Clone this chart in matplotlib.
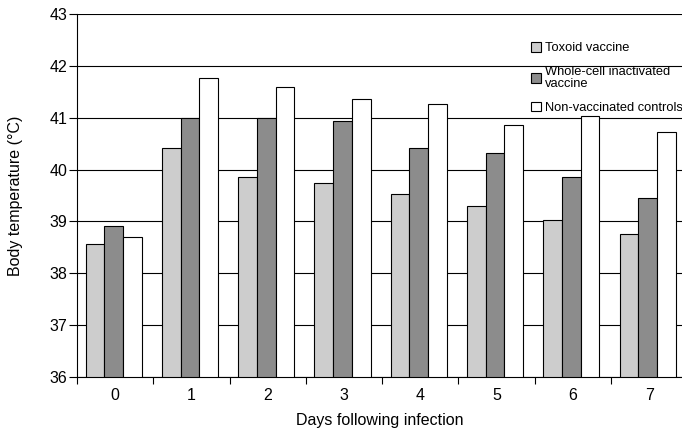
import numpy as np
import matplotlib
matplotlib.use('Agg')
import matplotlib.pyplot as plt
from matplotlib.patches import Patch

days = ['0', '1', '2', '3', '4', '5', '6', '7']
toxoid = [38.56, 40.41, 39.85, 39.74, 39.53, 39.30, 39.03, 38.76]
whole_cell = [38.91, 41.00, 40.99, 40.94, 40.41, 40.32, 39.86, 39.46]
controls = [38.70, 41.76, 41.59, 41.37, 41.27, 40.85, 41.04, 40.72]

series = [toxoid, whole_cell, controls]
names = ['Toxoid vaccine', 'Whole-cell inactivated\nvaccine', 'Non-vaccinated controls']
colors = ['#cdcdcd', '#8c8c8c', '#ffffff']

plt.rcParams['font.family'] = ['Liberation Sans', 'DejaVu Sans']

fig = plt.figure(figsize=(6.82, 4.32), dpi=100)
ax = fig.add_axes([77 / 682, 1 - 377 / 432, 1 - 77 / 682, 363 / 432])

x = np.arange(len(days))
width = 0.245
for i, (vals, col) in enumerate(zip(series, colors)):
    ax.bar(x + (i - 1) * width - 0.02, np.array(vals) - 36, width, bottom=36,
           color=col, edgecolor='black', linewidth=0.8, zorder=3)

ax.set_ylim(36, 43)
ax.set_xlim(-0.5, 7.43)
ax.set_yticks(range(36, 44))
ax.yaxis.grid(True, color='black', linewidth=0.8, zorder=0)
ax.set_axisbelow(True)

ax.set_xticks(x)
ax.set_xticklabels(days)
ax.set_xticks(np.arange(-0.5, 7.5, 1), minor=True)
ax.tick_params(axis='x', which='major', length=0, labelsize=11.5, pad=8)
ax.tick_params(axis='x', which='minor', length=5, width=0.8, direction='out')
ax.tick_params(axis='y', length=6, width=0.8, labelsize=11.5, pad=1)

for s in ['top', 'right']:
    ax.spines[s].set_visible(False)
ax.spines['left'].set_linewidth(0.8)
ax.spines['bottom'].set_linewidth(0.8)

ax.set_xlabel('Days following infection', fontsize=11.5, labelpad=7)
ax.set_ylabel('Body temperature (\u00b0C)', fontsize=11.5, labelpad=19)

handles = [Patch(facecolor=c, edgecolor='black', linewidth=0.8) for c in colors]
leg = fig.legend(handles, names, loc='upper left', bbox_to_anchor=(526 / 682, 1 - 37 / 432),
                 frameon=False, fontsize=9.3, handlelength=0.75, handleheight=0.75,
                 handletextpad=0.3, labelspacing=0.92, borderaxespad=0)
for t in leg.get_texts():
    t.set_linespacing(0.95)

fig.savefig('out.png', dpi=100)
